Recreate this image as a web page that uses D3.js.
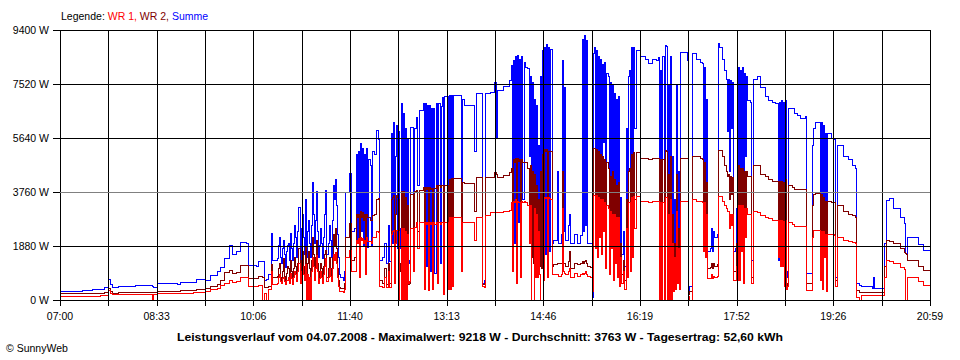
<!DOCTYPE html>
<html><head><meta charset="utf-8">
<script src="https://cdn.jsdelivr.net/npm/d3@7"></script>
<style>
body{margin:0;background:#fff}
svg{display:block}
text{font-family:"Liberation Sans",Arial,sans-serif}
</style>
</head><body>
<svg id="c" width="960" height="360"></svg>
<script>
// ---------- data ----------
const times = [
"07:00","07:14","07:21","07:31","07:39","07:42","07:46","07:48","07:50","07:56",
"08:12","08:29","08:30","08:34","08:53","08:56","09:08","09:11","09:20",
"09:25","09:31","09:34","09:38","09:43","09:46","09:50","09:54","09:59","10:01",
"10:09","10:11","10:15","10:17","10:19","10:21","10:23","10:24",
"10:29","10:30","10:31","10:32","10:33","10:34","10:35","10:36","10:37","10:38",
"10:39","10:40","10:41","10:42","10:43","10:44","10:45","10:46","10:47","10:48",
"10:49","10:50","10:51","10:52","10:53","10:54","10:55","10:56","10:57","10:58",
"10:59","11:00","11:01","11:02","11:03","11:04","11:05","11:06","11:07","11:08",
"11:09","11:10","11:11","11:12","11:13","11:14","11:15","11:16","11:17","11:18",
"11:19","11:20","11:21","11:22","11:23","11:24","11:25","11:26","11:27","11:28",
"11:29",
"11:30","11:33","11:34","11:35","11:39","11:41","11:44","11:45","11:46","11:47",
"11:48","11:49","11:50","11:51","11:52","11:53","11:54","11:55","11:56","11:57",
"11:59","12:00","12:01","12:03","12:05","12:07","12:08","12:11","12:12","12:14",
"12:16","12:17","12:19","12:20","12:21","12:22","12:23","12:24","12:25","12:26","12:27","12:28","12:29","12:30",
"12:31","12:32","12:33","12:34","12:35","12:36","12:37","12:38","12:40","12:41",
"12:43","12:44","12:46","12:48","12:50","12:51","12:52","12:53","12:54","12:55",
"12:56","12:57","12:58","12:59","13:00","13:01","13:03","13:04","13:05","13:06",
"13:07","13:08","13:09","13:10","13:13","13:14","13:15","13:16","13:17","13:18",
"13:19","13:26","13:27","13:28","13:30","13:37","13:39","13:41","13:46","13:47",
"13:49","13:50",
"13:55","13:59","14:00","14:01","14:07","14:13","14:15","14:16","14:17","14:18",
"14:19","14:20","14:21","14:22","14:23","14:24","14:25","14:26","14:27","14:28",
"14:30","14:32","14:33","14:34","14:35","14:36","14:37","14:38","14:39","14:40",
"14:41","14:42","14:43","14:44","14:45","14:46","14:47","14:48","14:49","14:50",
"14:51","14:52","14:53","14:54","14:55","14:58","14:59","15:00","15:03","15:04",
"15:05","15:06","15:07","15:10","15:11","15:12","15:16","15:19","15:21","15:23",
"15:24","15:25","15:26","15:27","15:28","15:31","15:33","15:34","15:35","15:36",
"15:37","15:38","15:39","15:40","15:41","15:42","15:43","15:44","15:45","15:46",
"15:47","15:48","15:49","15:50","15:51","15:52","15:53","15:54","15:55","15:56",
"15:57","15:58","15:59","16:00","16:01","16:03","16:04","16:06","16:07","16:08",
"16:09",
"16:10","16:11","16:12","16:13","16:14","16:15","16:19","16:24","16:27","16:31",
"16:35","16:37","16:38","16:39","16:40","16:41","16:42","16:43","16:44","16:45",
"16:46","16:47","16:48","16:49","16:50","16:51","16:52","16:53","16:54","16:55",
"16:56","16:57","16:58","17:05","17:06","17:07","17:09","17:13","17:17","17:19",
"17:20","17:21","17:22","17:23","17:24","17:27","17:28","17:29","17:30","17:31",
"17:34","17:35","17:36","17:38","17:40","17:42","17:43","17:44","17:45","17:46",
"17:47","17:48","17:49","17:51","17:52","17:53","17:54","17:55","17:56","17:57",
"17:58","17:59","18:00","18:01","18:02","18:03","18:05","18:06","18:07","18:08",
"18:12","18:15","18:20","18:23","18:27","18:30","18:32","18:33","18:34","18:35",
"18:36","18:37",
"18:38","18:39","18:40","18:41","18:42","18:46","18:48","18:51","18:54","18:58",
"18:59","19:04","19:05","19:06","19:08","19:12","19:13","19:14","19:15","19:16",
"19:17","19:18","19:19","19:20","19:24","19:26","19:27","19:28","19:29","19:35",
"19:40","19:44","19:47","19:48","19:51","19:52","20:03","20:04","20:05","20:13",
"20:15","20:17","20:19","20:23","20:30","20:34","20:35","20:36","20:37","20:43",
"20:47","20:52","20:59"
];

const summe = [
320,300,340,370,400,470,720,560,470,500,
520,500,470,580,540,620,620,720,700,
870,1000,1160,1460,1900,1600,1700,2030,2000,1220,
1180,1360,1350,700,720,900,2330,1400,
1450,1900,2200,1500,1300,1800,2100,1600,1150,1700,
1900,2000,1400,2330,1800,1400,2000,2600,2200,1500,
2400,3240,1400,2500,3000,2200,1600,3500,1500,2400,
2800,2000,1500,2600,4110,3000,2000,2800,3800,2400,
1500,1900,2500,2000,1450,2200,3000,3830,1600,2000,
2600,2100,1500,2800,4000,3500,4210,3300,2300,1500,
900,
800,700,1000,3760,4420,2400,2500,5100,2000,5200,
1900,5450,2400,5300,1900,5100,2200,5300,1850,4900,
4700,1900,5200,5100,5920,5600,1400,1500,2000,1300,
2600,1350,5800,2000,6200,1600,5000,6100,1800,5900,2500,1800,6850,2000,
6500,1700,6000,2300,5600,1300,1400,6030,2500,6000,
6380,4000,6610,6600,6850,1000,6850,1200,6800,900,
6800,1000,6700,1100,6700,950,6850,1500,6850,1300,
6750,7080,450,7100,7100,1000,7150,900,7150,1200,
7150,7150,2500,7000,6790,6790,5200,7200,7200,600,
700,7200,
7250,7590,5670,7300,7450,7650,8180,2200,8350,2000,
8500,1500,8530,2700,8400,2000,8500,3500,8300,8100,
8070,5000,7800,2600,7600,2400,7000,2100,6800,1900,
5400,2200,7800,2000,8700,1800,8800,1600,8900,1900,
8800,1700,8750,2000,2100,2100,4500,2000,2300,8350,
2400,7400,2100,2600,3000,2000,2300,2000,2250,9100,
2400,9218,2600,9050,2000,2000,100,8600,8800,4000,
8700,3000,8500,5000,8400,3500,8200,5500,8300,2600,
7900,7800,2200,7600,4000,7500,1800,7200,3000,7000,
2000,7100,1300,3600,1600,2400,1200,6000,2000,7800,
8000,
2600,8800,3500,8800,6000,8700,8500,8400,8250,8400,
8350,8450,2200,8000,2000,8500,2600,8870,8850,1200,
7500,800,8500,1000,5000,700,3500,900,7500,1500,
4500,1000,8650,8350,350,500,8600,8400,8300,8250,
4000,8100,3000,7000,1700,1800,2500,1700,2400,2200,
2300,8940,8800,8400,8000,7700,5900,7700,4500,7650,
6000,7600,1700,1800,3200,1700,8100,2000,8000,4000,
8100,1500,7900,5000,7800,6960,6900,1400,1400,7700,
7800,7400,7100,6960,6900,6850,1400,6900,4000,6950,
1400,6900,
900,6960,800,1000,6700,6700,6520,6450,6350,6400,
930,930,5400,6000,6200,6200,1500,6200,700,6100,
3000,5800,700,5800,5640,5600,800,800,5400,5000,
4900,4700,4600,590,530,500,410,800,410,410,
2000,3480,3550,3200,2900,2680,1640,1640,2200,2200,
1950,1740,1320
];

const wr2 = [
235,230,235,240,260,270,430,330,235,290,
290,290,280,325,300,345,345,400,420,
500,560,700,990,1050,950,980,1220,1220,780,
760,820,800,450,460,500,1250,800,
820,1100,1300,800,700,1000,1450,850,600,950,
1200,1100,650,1400,1000,700,1100,1500,1200,750,
1300,1800,700,1400,1700,1200,800,1850,800,1300,
1700,1100,850,1400,2200,1600,1100,1500,2100,1300,
800,1000,1300,1100,700,1200,1600,1750,800,1100,
1500,1100,750,1500,2300,1900,2500,1800,1100,700,
450,
420,420,600,2200,2680,1400,1500,3000,2900,3000,
1000,3100,2900,3050,2800,3000,1100,3000,2900,2900,
2800,2800,2950,3000,3500,3550,700,600,1100,550,
1300,600,3500,3600,3650,900,3000,3650,3600,3500,1300,1000,3800,1100,
3800,1000,3600,1300,3300,550,600,3700,1500,3800,
3830,2400,3830,3830,3930,500,3930,3850,3930,400,
3930,3850,3900,500,3900,3900,4000,700,4000,3950,
4000,4000,250,4000,4000,500,4200,400,4250,600,
4250,4250,1200,4100,4070,4070,3100,4280,4280,550,
600,4280,
4280,4460,4400,4280,4350,4460,4600,1200,4900,4800,
4950,800,4950,4850,4900,1000,4900,4800,4800,4800,
4600,3000,4700,1500,4500,1300,4400,1100,4000,1000,
3500,1200,4500,1100,5100,1000,5270,5200,5270,1100,
5200,5200,5200,1200,1250,1250,1300,1300,1300,4500,
1300,1300,1200,1350,1700,1100,1300,1250,1300,1350,
1300,1350,1400,1300,1200,1150,350,5300,5300,2500,
5270,2000,5200,3000,5100,2200,5000,3300,4900,1600,
4800,4600,1300,4300,2500,4500,1000,4200,1800,4000,
1100,4100,700,2000,900,1400,700,3500,1200,4500,
4600,
1500,5100,2000,5150,3500,5150,4950,4950,4900,4950,
4950,4950,1300,4900,1100,4900,1400,5220,5200,700,
4400,500,5000,600,3000,350,2000,500,4400,800,
2500,500,4950,4950,200,300,5000,5000,4950,4900,
2600,4800,2200,4100,1100,1150,1300,1100,1300,1200,
1250,5220,5220,5000,4700,4500,4300,4400,3500,4300,
3700,4280,1000,1000,2000,900,4700,1200,4600,2400,
4600,800,4500,3000,4500,4300,4300,800,800,4700,
4700,4400,4300,4200,4150,4150,2700,4150,2800,4150,
2500,4100,
600,4200,500,600,4000,3950,3870,3870,3870,3870,
600,600,3300,3700,3720,3720,1000,3700,500,3600,
2000,3430,400,3430,3400,3400,700,700,3300,3100,
3000,2950,2900,350,280,280,280,280,280,280,
1200,2090,2050,2000,1800,1680,1640,1600,1400,1390,
1200,1050,870
];

const wr1 = [
150,150,150,155,160,170,350,260,200,210,
210,0,210,230,230,235,290,290,300,
380,420,520,590,700,630,650,800,800,490,
480,530,0,250,0,400,1000,560,
600,800,900,650,600,750,800,650,550,700,
700,800,600,950,750,550,800,1000,900,650,
1000,1300,600,1000,1200,900,700,1250,0,900,
0,800,0,1000,1500,1200,700,1100,1550,1000,
600,750,1000,800,600,900,1200,1450,650,800,
1100,850,650,1100,1600,1400,1670,1300,800,500,
300,
300,280,400,1500,1740,1000,1000,2100,2000,2150,
800,2200,2100,2150,2000,2100,900,2200,2050,2050,
2050,2000,2200,2200,2400,2370,500,450,800,450,
1000,450,2300,2400,2440,600,2000,2440,2440,2400,0,0,2500,0,
2500,0,2400,0,2300,600,650,2500,1000,2550,
2700,1800,2700,2700,2710,400,2710,2650,2710,350,
2710,2650,2710,400,2710,2650,2710,600,2710,2650,
2710,2710,200,2710,2710,400,2900,400,2900,500,
2900,2900,1000,2700,2710,2710,2100,2900,2900,500,
450,2950,
3060,3060,3050,3060,3100,3150,3400,1000,3450,3400,
3500,600,3450,3400,3400,800,3450,3400,3450,3400,
3300,2000,3300,0,0,0,3200,800,3000,800,
2400,900,0,0,0,700,3590,3550,3590,800,
3590,3550,3500,900,900,900,900,850,900,3200,
1000,950,900,1000,1100,800,950,850,900,950,
900,950,1000,900,850,800,300,3650,3650,1800,
3650,1500,3600,2200,3500,1600,3500,2400,3400,1100,
3300,3200,900,3100,1800,3000,700,3000,1300,2900,
800,2900,500,1500,600,1000,400,2500,800,3400,
3400,
1000,3600,1500,3620,2500,3620,3450,3450,3400,3450,
3450,3450,0,3400,0,3400,0,3600,3600,0,
3000,0,3500,0,2000,300,1500,400,3100,600,
1800,400,3450,3430,150,0,3500,3450,3450,3400,
1700,3400,1500,3000,750,750,900,750,850,800,
850,3620,3620,3450,3300,3200,3100,3100,2500,3000,
2600,3000,700,700,1200,700,3300,700,3300,1700,
3300,600,3200,2200,3200,3000,3000,600,600,3100,
3050,2950,2900,2850,2800,2800,1500,2800,1200,2800,
1200,2750,
500,2800,400,500,2710,2650,2560,2560,2560,2560,
350,350,2200,2440,2440,2440,700,2400,400,2400,
1500,2300,300,2300,2300,2250,500,500,2200,2100,
2050,2020,2000,100,0,170,170,170,170,170,
800,1390,1350,1300,1150,1080,0,0,800,800,
650,520,450
];

const yTicks = [0, 1880, 3760, 5640, 7520, 9400];
const xTickLabels = ["07:00","08:33","10:06","11:40","13:13","14:46","16:19","17:52","19:26","20:59"];
const averageW = 3763;
const legendParts = [["Legende: ", "#000000"], ["WR 1, ", "#ff0000"], ["WR 2, ", "#800000"], ["Summe", "#0000ff"]];
const titleText = "Leistungsverlauf vom 04.07.2008 - Maximalwert: 9218 W - Durchschnitt: 3763 W - Tagesertrag: 52,60 kWh";
const copyrightText = "\u00A9 SunnyWeb";

// ---------- drawing ----------
const toMin = s => { const p = s.split(":").map(Number); return p[0] * 60 + p[1]; };
const svg = d3.select("#c");
const W = 960, H = 360;
const L = 60, R = 930, T = 30, B = 300;

svg.append("rect").attr("width", W).attr("height", H).attr("fill", "#fff");

const t0 = toMin(xTickLabels[0]), t1 = toMin(xTickLabels[xTickLabels.length - 1]);
const x = d3.scaleLinear().domain([t0, t1]).range([L, R]);
const y = d3.scaleLinear().domain([0, yTicks[yTicks.length - 1]]).range([B, T]);
const px = v => Math.round(v) + 0.5;

const n = Math.min(times.length, summe.length, wr1.length, wr2.length);
const idx = d3.range(n);

const series = [
  { values: summe, color: "#0000ff" },
  { values: wr2, color: "#800000" },
  { values: wr1, color: "#ff0000" }
];
series.forEach(s => {
  const line = d3.line()
    .curve(d3.curveStepAfter)
    .defined(i => s.values[i] != null)
    .x(i => px(x(toMin(times[i]))))
    .y(i => px(y(s.values[i])));
  svg.append("path")
    .attr("d", line(idx))
    .attr("fill", "none")
    .attr("stroke", s.color)
    .attr("stroke-width", 1)
    .attr("shape-rendering", "crispEdges");
});

// grid (drawn over the series like the original)
const grid = svg.append("g").attr("shape-rendering", "crispEdges");
const nGrid = (xTickLabels.length - 1) * 2;
const gridTimes = d3.range(nGrid + 1).map(i => t0 + i * (t1 - t0) / nGrid);
gridTimes.forEach(t => {
  grid.append("line")
    .attr("x1", px(x(t))).attr("x2", px(x(t)))
    .attr("y1", T).attr("y2", B + 5.5)
    .attr("stroke", "#000").attr("stroke-width", 1);
});
yTicks.forEach(v => {
  grid.append("line")
    .attr("x1", L - 7).attr("x2", R + 1)
    .attr("y1", px(y(v))).attr("y2", px(y(v)))
    .attr("stroke", "#000").attr("stroke-width", 1);
});
// average line
grid.append("line")
  .attr("x1", L).attr("x2", R)
  .attr("y1", px(y(averageW))).attr("y2", px(y(averageW)))
  .attr("stroke", "#808080").attr("stroke-width", 1);

// y labels
svg.append("g").selectAll("text").data(yTicks).join("text")
  .attr("x", 49).attr("y", d => y(d) + 4)
  .attr("text-anchor", "end")
  .attr("font-size", "10.5px").attr("fill", "#000")
  .text(d => d + " W");

// x labels
svg.append("g").selectAll("text").data(xTickLabels).join("text")
  .attr("x", (d, i) => x(gridTimes[i * 2]))
  .attr("y", 320)
  .attr("text-anchor", "middle")
  .attr("font-size", "10.5px").attr("fill", "#000")
  .text(d => d);

// legend
const leg = svg.append("text").attr("x", 61).attr("y", 20).attr("font-size", "10.5px");
legendParts.forEach(p => leg.append("tspan").attr("fill", p[1]).text(p[0]));

// title
svg.append("text")
  .attr("x", 177).attr("y", 341)
  .attr("font-size", "11.5px").attr("font-weight", "bold").attr("fill", "#000")
  .attr("textLength", 606).attr("lengthAdjust", "spacingAndGlyphs")
  .text(titleText);

// copyright
svg.append("text")
  .attr("x", 6).attr("y", 352)
  .attr("font-size", "10.5px").attr("fill", "#000")
  .text(copyrightText);
</script>
</body></html>
